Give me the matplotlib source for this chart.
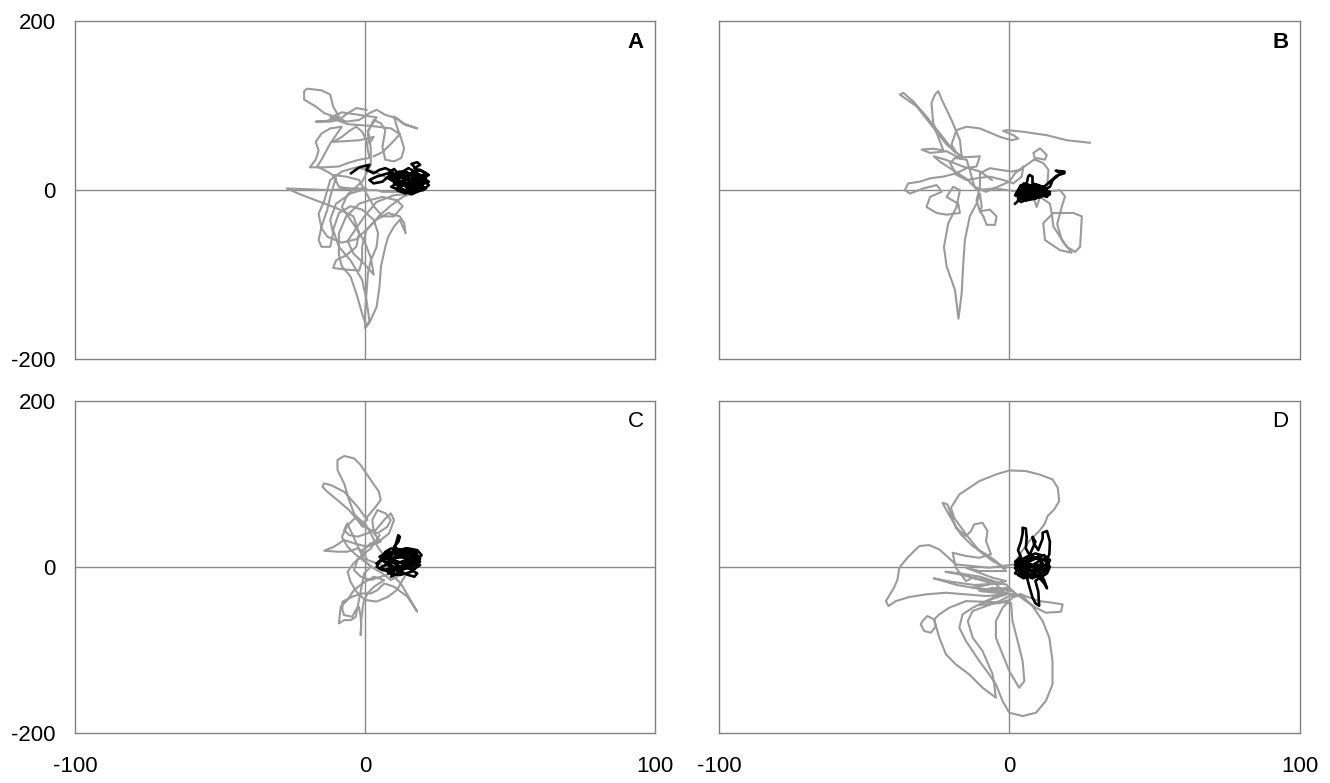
import matplotlib
matplotlib.use('Agg')
import matplotlib.pyplot as plt
import numpy as np

plt.rcParams['font.family'] = ['Liberation Sans', 'DejaVu Sans']
plt.rcParams['axes.unicode_minus'] = False

# ---- traced trajectories (x, y) ----
a_gray = [
    (0.5, 95), (-3, 97), (-6, 91), (-9, 83), (-12, 81), (-17, 81), (-13, 82), (-9, 87), (-11, 99), (-12, 113),
    (-15, 118), (-20, 120), (-21, 117), (-21, 107), (-17, 99), (-14, 91), (-9, 85), (-6.5, 81), (-2, 83), (1.5, 91),
    (4, 95), (7, 89), (11, 85), (14, 77), (18, 73), (13, 79), (10, 87), (11, 75), (12.5, 61), (13.5, 49),
    (12.5, 38), (10, 34), (7, 36), (6, 51), (7, 71), (5.5, 79), (3, 83), (1, 69), (1.5, 55), (3, 63),
    (-2, 59), (-6.5, 58), (-11, 57), (-8, 63), (-5, 71), (-3, 75), (-1, 69), (0.5, 59), (1, 47), (1.5, 38),
    (-2, 36), (-6, 32), (-9, 28), (-14, 27), (-19, 27), (-17, 36), (-16, 47), (-17, 57), (-15, 67), (-12, 73),
    (-8, 75), (-12, 55), (-15, 36), (-16.5, 28), (-12, 20), (-10, 14), (-11, 4), (-12, -8), (-13, -23), (-15, -43),
    (-16, -59), (-15, -67), (-12, -67), (-11, -51), (-12, -35), (-10, -16), (-5, -4), (0.5, 2), (-5, 2), (-12, 0),
    (-19, 1), (-27, 2), (-23, -4), (-17, -12), (-10, -21), (-4, -31), (-2, -51), (-3, -67), (-6.5, -77), (-10, -83),
    (-11, -92), (-6.5, -94), (-2, -95), (-1, -83), (-1, -67), (0.5, -47), (4, -35), (8, -27), (12, -31), (13.5, -39),
    (14, -51), (13, -43), (12, -35), (10, -43), (8, -55), (7, -67), (5.5, -90), (5, -114), (4, -138), (1.5, -157),
    (0, -163), (0, -146), (0.5, -122), (1, -98), (2, -83), (4, -67), (4.5, -51), (3, -35), (-1, -23), (-5, -19),
    (-9, -27), (-11, -47), (-9, -67), (-5, -83), (-1, -106), (0.5, -130), (1.5, -154), (0.5, -161), (-1, -146), (-3, -122),
    (-5, -102), (-8, -90), (-9, -77), (-9, -51), (-6.5, -31), (-2, -16), (1.5, -12), (6, -8), (11, -12), (13, -19),
    (10, -31), (6, -31), (3, -19), (0.5, -4), (-2, 12), (-6.5, 16), (-11, 18), (-9, 4), (-3, 0), (4, 0),
    (6, -2), (12, -2), (20, 4), (14, 8), (8, 14), (3, 22), (-3, 27), (-8, 22), (-12, 12), (-13, 0),
    (-14, -12), (-16, -28), (-15, -45), (-13, -55), (-8, -62), (-3, -58), (1, -45), (5, -30), (9, -18), (13, -8),
    (16, -4), (10, -6), (4, -14), (0, -30), (-3, -45), (-6, -60), (-4, -75), (0, -88), (3, -100), (2, -80),
    (0, -62), (-4, -40), (-8, -20), (-6, -5), (-1, 10), (2, 30), (2, 50), (1, 70), (4, 86), (-2, 89),
    (-8, 92), (-12, 86), (-6, 78), (2, 76), (9, 73), (12, 66), (9, 55), (6, 45), (3, 40),
]
a_black = [
    (-4.8, 20), (-2, 27), (1.5, 30), (0.5, 24), (3, 20), (5, 24), (7, 26), (9.5, 22), (8, 16), (6, 10),
    (3, 8), (1.5, 12), (4, 16), (8, 20), (10, 25), (12, 18), (10, 10), (13, 6), (11, 2), (14, 0),
    (17, 4), (19, 10), (16, 14), (13, 12), (15, 18), (18, 24), (16, 31), (18, 33), (19, 30), (17, 26),
    (20, 22), (22, 18), (20, 14), (22, 10), (19, 6), (21, 2), (18, -2), (16, -5), (14, -2), (12, 4),
    (10, 8), (12, 14), (14, 22), (16, 18), (18, 12), (15, 8), (12, 10), (11, 16), (14, 20), (17, 16),
    (20, 18), (21, 12), (17, 8), (14, 4), (16, 0), (19, 2), (20, 8), (16, 12), (13, 16), (10, 14),
    (12, 8), (15, 4), (18, 6), (21, 10), (19, 16), (15, 20), (12, 22), (9, 18), (10, 12), (13, 8),
    (17, 2), (20, 0), (22, 6), (20, 12), (17, 14), (14, 12), (11, 8), (9, 4), (12, 0), (15, -3),
    (18, 0), (19, 6), (16, 10), (13, 14), (12, 20), (15, 26), (17, 22), (19, 18), (21, 14), (18, 10),
    (15, 6), (12, 6), (10, 10), (8, 14), (11, 18), (14, 16), (16, 8), (18, 4), (14, -4), (11, 0),
    (13, 10), (16, 20), (19, 24), (21, 20), (20, 14),
]

b_gray = [
    (27.8, 56), (19.8, 59), (12.9, 65), (4.8, 69), (-0.9, 71), (-2.1, 70), (1.4, 65), (3.1, 61), (0.8, 59), (-3.2, 63),
    (-10.1, 73), (-14.7, 75), (-18.2, 71), (-19.9, 54), (-18.2, 44), (-21.6, 54), (-27.3, 79), (-31.9, 99), (-36, 109), (-37.7, 113),
    (-36.5, 115), (-33.1, 105), (-28.5, 87), (-23.9, 67), (-19.3, 47), (-16.4, 40), (-17, 59), (-19.9, 83), (-22.7, 103), (-24.5, 117),
    (-25.6, 113), (-26.8, 103), (-26.2, 79), (-24.5, 63), (-22.7, 47), (-26.2, 49), (-30.2, 48), (-27.3, 44), (-21.6, 46), (-18.2, 40),
    (-14.7, 39), (-10.1, 40), (-11.3, 28), (-14.7, 26), (-18.2, 20), (-22.7, 16), (-27.3, 14), (-30.8, 10), (-34.8, 8), (-36, 0),
    (-34.2, -4), (-29.6, 2), (-25, 6), (-23.3, -2), (-27.3, -8), (-28.5, -20), (-25, -27), (-21.6, -29), (-17, -27), (-17.6, -16),
    (-21.6, -8), (-19.3, 4), (-17, 0), (-18.2, -20), (-21, -39), (-22.5, -67), (-21.6, -90), (-18.7, -118), (-17.5, -152), (-16.4, -122),
    (-15.9, -90), (-15.3, -59), (-13.6, -31), (-11.3, -16), (-10.1, -4), (-9.5, -20), (-10.1, -25), (-6.7, -23), (-4.4, -31), (-4.9, -41),
    (-7.8, -41), (-8.9, -31), (-10.1, -25), (-11.3, -12), (-10.1, 4), (-10.1, 20), (-6.7, 26), (-3.2, 24), (0.8, 22), (3.7, 24),
    (4.8, 28), (4.3, 16), (1.4, 8), (-2.1, 12), (-6.7, 16), (-11.3, 14), (-14.7, 12), (-18.2, 18), (-20.4, 32), (-18.7, 38),
    (-14.7, 36), (-13.6, 24), (-12.4, 8), (-11.3, 0), (-5, 2), (3.7, -2), (8.3, -8), (9.4, -20), (10.6, -8), (14, -16),
    (14.6, -27), (15.2, -43), (19.8, -67), (22.7, -73), (24.4, -67), (25, -31), (22.1, -27), (15.2, -27), (11.7, -39), (12.3, -59),
    (17.5, -71), (21.5, -74), (18.1, -59), (16.5, -40), (18.1, -19.5), (19.2, -7.5), (17.5, 0), (12.9, -2), (13.5, 24), (11.7, 32),
    (8.9, 36), (8.3, 44), (10.6, 49.5), (12.9, 41.6), (12.3, 36), (9.4, 38), (6, 30), (2, 20), (0, 10), (-4, 4),
    (-8, -2), (-12, 4), (-15, 14), (-20, 25), (-24, 34), (-26, 40), (-22, 36), (-16, 28), (-10, 22), (-6, 12),
]
b_black = [
    (2, -16), (4, -10), (3, -4), (5, 2), (6, 8), (6.5, 16), (7, 18), (8, 16), (8, 8), (10, 6),
    (12, 2), (10, -2), (7, -4), (5, -8), (3, -12), (6, -6), (9, -2), (11, 0), (13, -2), (14, -5),
    (12, -6), (9, -4), (6, 2), (4, 6), (3, 0), (2, -6), (5, -10), (8, -6), (11, -4), (13, 2),
    (14, 4), (15, 12), (17, 18), (19, 20), (19, 22), (16, 23), (18, 20), (16, 16), (14, 10), (12, 4),
    (10, 0), (7, 2), (5, 4), (4, -2), (7, -8), (9, -6), (11, 2), (8, 4), (6, -2), (4, -4),
    (5, -6), (8, -10), (11, -8), (13, -2), (12, 4), (9, 6), (6, 4), (4, 0), (3, -8), (6, -12),
    (9, -10), (12, -4), (10, 2), (7, 0), (5, -4), (8, -2), (11, -6), (13, -8), (14, -2), (12, 0),
    (9, 2), (7, 6), (5, 8), (4, 4), (6, -2), (9, -6), (7, -10), (4, -14), (3, -10), (5, -2),
    (8, 2), (10, 4), (12, -2), (10, -8), (7, -6), (5, 0),
]

c_gray = [
    (0.8, 56.3), (-2.6, 72.3), (-7.2, 90.4), (-11.8, 98.4), (-14.1, 100.4), (-14.7, 96.4), (-13, 90.4), (-9.5, 80.3), (-5.5, 68.3), (-2.6, 56.3),
    (-0.9, 48.2), (0.8, 60.3), (3.7, 72.3), (5.4, 80.3), (4.8, 90.4), (2, 104.4), (-1.5, 122.5), (-3.8, 130.6), (-7.2, 133.4), (-9.5, 128.6),
    (-9.5, 116.5), (-7.2, 100.4), (-5.5, 80.3), (-3.8, 64.3), (-0.3, 48.2), (4.3, 40.2), (7.7, 48.2), (8.9, 56.3), (7.1, 64.3), (4.3, 68.3),
    (2.5, 56.3), (3.1, 40.2), (5.4, 30.2), (0.8, 24.1), (-3.8, 28.2), (-7.2, 32.2), (-10.7, 24.1), (-14.1, 19.3), (-9.5, 18.1), (-6.1, 18.1),
    (-2.6, 22.1), (0.2, 16.1), (-2.6, 8.1), (-3.8, -4), (-1.5, -12), (2, -16.1), (5.4, -12), (8.9, -8), (12.3, -20.1), (15.7, -40.2),
    (18, -54.2), (14.6, -36.1), (10, -24.1), (6.6, -20.1), (4.3, -28.1), (2, -32.2), (-0.9, -32.2), (-4.4, -36.1), (-7.8, -42.2), (-7.8, -52.2),
    (-7.2, -58.2), (-4.4, -60.3), (-3.2, -52.2), (-2.1, -48.2), (-1.5, -60.3), (-1.3, -72.3), (-1.5, -82.4), (-1.3, -64.3), (-0.6, -44.2), (0.8, -32.2),
    (3.1, -24.1), (6.6, -16.1), (3.1, -12), (-0.9, -20.1), (-3.8, -28.1), (-6.1, -40.2), (-8.4, -48.2), (-9, -68.3), (-7.2, -64.3), (-4.9, -64.3),
    (-3.2, -60.3), (-0.3, -8), (2, 0), (-0.3, 8.1), (-6.1, 52.2), (-7.2, 44.2), (-5.5, 38.2), (-2.6, 36.2), (0.8, 40.2), (3.7, 44.2),
    (6.6, 56.3), (8.9, 64.3), (10, 56.3), (8.3, 40.2), (5.4, 32.2), (2, 28.2), (-0.9, 20.1), (0.8, 8.1), (4.3, 4), (8.9, -2),
    (11.1, -12), (8.9, -16), (6, -8), (3, -2), (0, 6), (-3, 14), (-6, 24), (-8, 36), (-6, 50), (-3, 60),
    (0, 52), (2, 40), (4, 26), (6, 16), (9, 6), (12, 0), (14, -10), (11, -28), (8, -36), (4, -42),
    (0, -40), (-3, -30), (-5, -18), (-6, -6), (-4, 4), (-1, 14), (2, 22), (5, 38),
]
c_black = [
    (4, 4), (6, 10), (8, 14), (10, 20), (11, 32), (11.5, 38), (12, 36), (11.5, 30), (10, 24), (12, 20),
    (15, 22), (18, 20), (19.5, 14), (18, 8), (15, 10), (12, 12), (8, 10), (5, 6), (4, 0), (6, -4),
    (9, -2), (12, -6), (15, -10), (17, -12), (18, -8), (16, -4), (14, 2), (17, 6), (19, 2), (17, -2),
    (14, -2), (11, 2), (9, 8), (11, 14), (14, 16), (17, 14), (18, 18), (14, 22), (10, 18), (7, 14),
    (6, 8), (8, 2), (10, -6), (9, -12), (11, -8), (13, -4), (16, 4), (18, 10), (16, 16), (12, 18),
    (9, 14), (8, 6), (11, 4), (14, 8), (17, 10), (19, 6), (16, 0), (13, -2), (10, 0), (7, 6),
    (5, 12), (8, 18), (12, 16), (15, 14), (18, 12), (16, 6), (13, 4), (10, 8), (7, 2), (5, -2),
    (8, -6), (12, -2), (15, 2), (18, 4), (19, 10), (17, 18), (13, 20), (9, 22), (7, 18), (6, 12),
    (9, 10), (13, 12), (16, 10), (14, 4), (11, -2), (8, -8), (12, -10), (16, -6), (18, 0),
]

d_gray = [
    (-1.1, -1.2), (-5.7, 6.8), (-10.3, 18.9), (-14.9, 39), (-19, 59), (-20.1, 71.1), (-17.2, 87.1), (-10.3, 103.2), (-4.6, 111.2), (0, 116),
    (5.7, 115.3), (10.3, 111.2), (14.9, 105.2), (16.7, 95.2), (17.2, 79.1), (15.5, 69.1), (13.2, 61), (12.1, 51), (10.3, 43), (6.9, 30.9),
    (4, 16.9), (1.7, 2.8), (-6.9, -1.2), (-12.6, 0.8), (-18.4, 2.8), (-24.1, 20.9), (-27.6, 26.1), (-31, 24.9), (-35.1, 10.8), (-37.9, -1.2),
    (-38.5, -15.3), (-39.7, -25.3), (-42.5, -41.4), (-41.6, -47.4), (-39.1, -41.4), (-34.5, -36.5), (-28.7, -33.3), (-21.8, -31.3), (-14.9, -33.3), (-8, -35.3),
    (-1.1, -33.3), (-5.7, -17.3), (-12.6, -13.3), (-14.9, -17.3), (-18.4, -1.2), (-19.5, 16.9), (-14.9, 12.9), (-10.3, 10.8), (-6.3, 14.9), (-8, 30.9),
    (-7.5, 43), (-9.2, 53), (-12.1, 51), (-13.2, 43), (-14.9, 36.9), (-18.4, 47), (-20.1, 63.1), (-21.3, 75.1), (-23, 77.1), (-21.8, 69.1),
    (-19.5, 55), (-16.7, 39), (-12.6, 24.9), (-8, 14.9), (-4.6, 6.8), (-1.1, -5.2), (-10.3, -5.2), (-14.9, -1.2), (-5.7, -13.3), (-1.1, -17.3),
    (-6.9, -21.3), (-12.6, -25.3), (-6.9, -27.3), (0, -25.3), (-1.1, -33.3), (-8, -41.4), (-12.6, -49.4), (-16.1, -57.4), (-17.2, -73.5), (-14.9, -89.6),
    (-12.6, -101.6), (-10.3, -113.7), (-6.9, -129.7), (-4.6, -141.8), (-2.3, -161.8), (0, -175.9), (4.6, -179.9), (9.2, -175.9), (12.6, -161.8), (14.9, -141.8),
    (14.9, -113.7), (13.8, -85.5), (11.5, -65.5), (8, -47.4), (4, -33.3), (1.1, -37.3), (-2.3, -49.4), (-4.6, -65.5), (-4.6, -85.5), (-2.3, -105.6),
    (0, -125.7), (3.4, -145.8), (5.2, -137.8), (4.6, -113.7), (2.9, -89.6), (1.1, -65.5), (0.6, -43.4), (-14.9, -41.4), (-20.7, -49.4), (-24.1, -57.4),
    (-25.9, -63.5), (-25.3, -71.5), (-27, -79.5), (-29.3, -77.5), (-30.5, -69.5), (-29.9, -65.5), (-28.2, -59.4), (-25.9, -63.5), (-24.1, -85.5), (-21.8, -105.6),
    (-18.4, -117.7), (-13.8, -129.7), (-9.2, -145.8), (-4.6, -157.8), (-5.7, -129.7), (-9.2, -101.6), (-12.6, -85.5), (-14.3, -65.5), (-12.6, -53.4), (-8, -47.4),
    (-3.4, -41.4), (0, -35.3), (4, -33.3), (10.3, -41.4), (14.9, -43.4), (18.4, -45.4), (17.8, -54.2), (12.6, -55.4), (9.2, -49.4), (5.7, -41.4),
    (1.1, -29.3), (-5.7, -25.3), (-10.3, -29.3), (-4.6, -31.3), (2.3, -33.3), (-1.1, -21.3), (-8, -18), (-16, -10), (-22, -6), (-17, -8),
    (-10, -12), (-3, -20), (-12, -22), (-20, -18), (-26, -14), (-18, -22), (-8, -28), (-2, -30), (-6, -38), (-10, -46),
    (-4, -44), (0, -40),
]
d_black = [
    (3, 0), (2, 6), (4, 12), (3, 20), (4, 30), (4.6, 40), (4.6, 47), (5.7, 46), (6, 35), (5.7, 22),
    (7, 14), (8, 22), (9, 30), (8, 36), (8.5, 28), (10, 20), (11.5, 34), (11.5, 41), (13, 43), (14, 30),
    (13.8, 15), (12.6, 6), (14, 0), (13, -8), (11, -12), (9, -17), (10, -30), (10.3, -47), (9, -44), (8, -37),
    (7, -25), (6, -12), (4, -8), (3, -4), (2, 2), (5, 4), (8, 2), (10, 6), (12, 10), (13, 4),
    (11, -2), (8, -6), (6, -4), (4, -1), (6, 6), (9, 10), (11, 8), (12, 0), (10, -6), (7, -10),
    (5, -14), (3, -10), (4, -4), (7, 0), (10, 2), (13, -2), (12, -10), (9, -12), (6, -8), (2, -2),
    (4, 4), (8, 8), (11, 14), (9, 16), (6, 12), (4, 8), (7, 4), (10, -4), (12, -16), (13, -26),
    (12, -20), (9, -8), (6, 0), (3, 6), (5, 10), (8, 12), (11, 10), (13, 6), (12, -4), (9, -2),
    (6, 2), (3, -2), (2, -8), (5, -10), (8, -14), (11, -8), (13, 0), (14, 8), (12, 14), (8, 10),
    (5, 6), (3, 2), (6, -6), (9, -4), (11, 4),
]

x_ticks = [-100, 0, 100]
y_ticks = [-200, 0, 200]

# name, gray, black, bold label, axes box, show y labels, show x labels
panels = [
    ('A', a_gray, a_black, True, [0.0564, 0.5411, 0.4361, 0.4321], True, False),
    ('B', b_gray, b_black, True, [0.5406, 0.5411, 0.4365, 0.4321], False, False),
    ('C', c_gray, c_black, False, [0.0564, 0.0642, 0.4361, 0.4240], True, True),
    ('D', d_gray, d_black, False, [0.5406, 0.0642, 0.4365, 0.4240], False, True),
]

fig = plt.figure(figsize=(13.3, 7.83), dpi=100)

for name, gray, black, bold, box, ylab, xlab in panels:
    ax = fig.add_axes(box)
    ax.axhline(0, color='#8a8a8a', lw=1.0, zorder=1)
    ax.axvline(0, color='#8a8a8a', lw=1.0, zorder=1)
    g = np.array(gray)
    ax.plot(g[:, 0], g[:, 1], color='#9b9b9b', lw=1.5, zorder=2,
            solid_joinstyle='round')
    b = np.array(black)
    ax.plot(b[:, 0], b[:, 1], color='black', lw=1.9, zorder=3,
            solid_joinstyle='round')
    ax.set_xlim(-100, 100)
    ax.set_ylim(-200, 200)
    ax.set_xticks(x_ticks)
    ax.set_yticks(y_ticks)
    ax.tick_params(length=0, labelsize=16)
    ax.tick_params(axis='y', pad=14, labelleft=ylab)
    ax.tick_params(axis='x', pad=17, labelbottom=xlab)
    for s in ax.spines.values():
        s.set_color('#808080')
        s.set_linewidth(1.0)
    ax.text(0.967, 0.937, name, transform=ax.transAxes, ha='center', va='center',
            fontsize=16, fontweight='bold' if bold else 'normal')

fig.savefig('out.png', dpi=100, facecolor='white')
